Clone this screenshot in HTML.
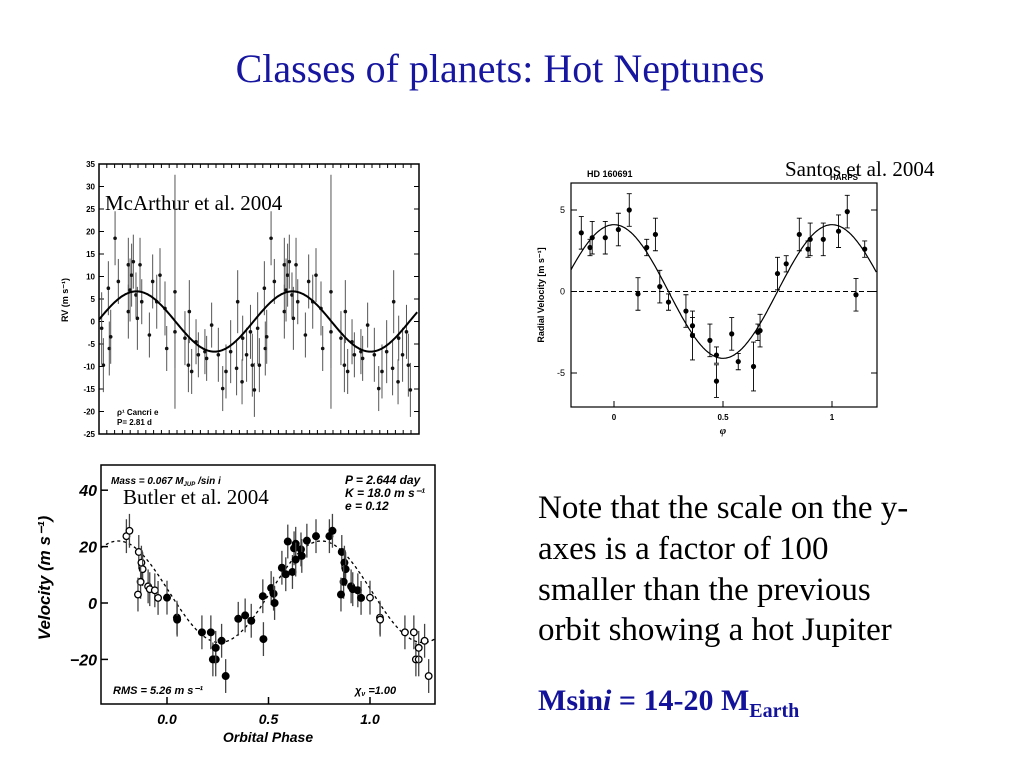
<!DOCTYPE html>
<html><head><meta charset="utf-8"><style>
body{margin:0;background:#fff;width:1024px;height:768px;overflow:hidden}
svg{display:block}
.ser{font-family:"Liberation Serif",serif}
.san{font-family:"Liberation Sans",sans-serif}
</style></head><body>
<svg id="s" width="1024" height="768" viewBox="0 0 1024 768" xmlns="http://www.w3.org/2000/svg">
<text class="ser" x="500" y="82" font-size="40" fill="#1616a0" text-anchor="middle">Classes of planets: Hot Neptunes</text>

<g id="p1">
<rect x="99" y="164" width="320" height="270" fill="none" stroke="#000" stroke-width="1.5"/>
<text class="san" x="68" y="300" font-size="9" font-weight="bold" text-anchor="middle" transform="rotate(-90 68 300)">RV (m s⁻¹)</text>
<text class="ser" x="105" y="210" font-size="21">McArthur et al. 2004</text>
<text class="san" x="117" y="415" font-size="8" font-weight="bold">ρ¹ Cancri e</text>
<text class="san" x="117" y="425" font-size="8" font-weight="bold">P= 2.81 d</text>
</g>

<g id="p2">
<rect x="571" y="183" width="306" height="224" fill="none" stroke="#000" stroke-width="1.2"/>
<text class="san" x="587" y="177" font-size="9" font-weight="bold">HD 160691</text>
<text class="san" x="830" y="180" font-size="8" font-weight="bold">HARPS</text>
<text class="ser" x="785" y="176" font-size="21">Santos et al. 2004</text>
<text class="san" x="544" y="295" font-size="9" font-weight="bold" text-anchor="middle" transform="rotate(-90 544 295)">Radial Velocity [m s⁻¹]</text>
<text class="ser" x="723" y="434" font-size="11" font-style="italic" font-weight="bold" text-anchor="middle">φ</text>
</g>

<g id="p3">
<rect x="101" y="465" width="334" height="239" fill="none" stroke="#000" stroke-width="1.5"/>
<text class="san" x="50" y="578" font-size="17" font-weight="bold" font-style="italic" text-anchor="middle" transform="rotate(-90 50 578)">Velocity (m s⁻¹)</text>
<text class="san" x="268" y="742" font-size="14" font-weight="bold" font-style="italic" text-anchor="middle">Orbital Phase</text>
<text class="san" x="111" y="484" font-size="10" font-weight="bold" font-style="italic">Mass = 0.067 M<tspan font-size="6" dy="2">JUP</tspan><tspan dy="-2"> /sin i</tspan></text>
<text class="ser" x="123" y="504" font-size="21">Butler et al. 2004</text>
<text class="san" x="345" y="484" font-size="12" font-weight="bold" font-style="italic">P = 2.644 day</text>
<text class="san" x="345" y="497" font-size="12" font-weight="bold" font-style="italic">K = 18.0 m s⁻¹</text>
<text class="san" x="345" y="510" font-size="12" font-weight="bold" font-style="italic">e = 0.12</text>
<text class="san" x="113" y="694" font-size="11" font-weight="bold" font-style="italic">RMS = 5.26 m s⁻¹</text>
<text class="san" x="355" y="694" font-size="11" font-weight="bold" font-style="italic">χ<tspan font-size="7" dy="2">ν</tspan><tspan dy="-2"> =1.00</tspan></text>
</g>

<text class="ser" font-size="33" fill="#000">
<tspan x="538" y="518">Note that the scale on the y-</tspan>
<tspan x="538" y="559">axes is a factor of 100</tspan>
<tspan x="538" y="600">smaller than the previous</tspan>
<tspan x="538" y="640">orbit showing a hot Jupiter</tspan>
</text>
<text class="ser" x="538" y="710" font-size="30" font-weight="bold" fill="#12129a">Msin<tspan font-style="italic">i</tspan> = 14-20 M<tspan font-size="20" dy="7">Earth</tspan></text>
</svg>
<script>
// McArthur data: phase, RV, error
const mPhase=[0.017,0.028,0.060,0.066,0.075,0.103,0.124,0.188,0.188,0.199,0.209,0.220,0.237,0.246,0.263,0.274,0.323,0.344,0.370,0.391,0.423,0.434,0.487,0.487,0.551,0.573,0.579,0.594,0.622,0.637,0.679,0.690,0.722,0.765,0.793,0.814,0.844,0.882,0.889,0.917,0.921,0.946,0.971,0.983,0.996];
const mRV=[-1.5,-9.7,7.4,-6,-3.4,18.5,8.9,12.6,2.2,7,10.3,13.3,5.9,0.7,12.6,4.4,-3,8.9,4.4,10.3,2.9,-6,6.6,-2.3,-3.7,-9.7,2.2,-11.1,-4.5,-7.4,-6.7,-8.2,-0.8,-7.4,-14.9,-11.1,-6.7,-10.4,4.4,-13.4,-3.7,-7.4,-2.3,-9.7,-15.2];
const mErr=[8,6,6,6,6,6,5,6,6,7,7,6,5,7,6,5,5,6,6,6,6,5,26,8,6,6,7,5,5,5,5,5,5,6,5,6,7,6,7,5,5,6,6,7,6];
const mTicks=[35,30,25,20,15,10,5,0,-5,-10,-15,-20,-25];
const mAmp=6.7, mPeak=0.24;
// Santos data
const sPhase=[-0.15,-0.11,-0.1,-0.04,0.02,0.07,0.11,0.15,0.19,0.21,0.25,0.33,0.36,0.36,0.44,0.47,0.47,0.54,0.57,0.64,0.66,0.67,0.75,0.79,0.85,0.89,0.9,0.96,1.03,1.07,1.11,1.15];
const sRV=[3.6,2.7,3.3,3.3,3.8,5.0,-0.15,2.7,3.5,0.3,-0.65,-1.2,-2.7,-2.1,-3.0,-3.9,-5.5,-2.6,-4.3,-4.6,-2.5,-2.4,1.1,1.7,3.5,2.6,3.2,3.2,3.7,4.9,-0.2,2.6];
const sErr=[1,0.5,1,1,1,1,1,0.5,1,1,0.5,1,1.5,0.5,1,0.5,1,1,0.5,1.5,0.5,1,1,0.5,1,0.5,1,1,1,1,1,0.5];
const sYTicks=[5,0,-5];
const sXTicks=[0,0.5,1];
const sXLabels=["0","0.5","1"];
const sAmp=4.1;
// Butler data (phase in [0,1])
const bPhase=[0,0.049,0.05,0.172,0.216,0.226,0.24,0.24,0.269,0.289,0.351,0.385,0.415,0.475,0.472,0.513,0.525,0.53,0.566,0.585,0.595,0.618,0.626,0.634,0.634,0.66,0.664,0.689,0.734,0.8,0.815,0.861,0.874,0.88,0.87,0.857,0.907,0.915,0.94,0.956];
const bRV=[1.9,-5.2,-5.9,-10.4,-10.4,-20,-20,-15.9,-13.4,-25.9,-5.6,-4.4,-6.3,-12.8,2.4,5.3,3.3,0,12.5,10.2,21.8,11,19.4,21,15.4,19,16.7,22.1,23.7,23.7,25.6,18.1,14.3,12,7.5,3,5.9,4.9,4.5,1.8];
const bYTicks=[40,20,0,-20];
const bYLabels=["40","20","0","\u221220"];
const bXTicks=[0,0.5,1];
const bXLabels=["0.0","0.5","1.0"];
const bK=18, bOff=4, bPeak=0.76;
const bRepeatMin=-0.21, bRepeatMax=1.3;

const NS="http://www.w3.org/2000/svg";
const svg=document.getElementById('s');
function mk(tag,attrs,parent){const e=document.createElementNS(NS,tag);for(const k in attrs)e.setAttribute(k,attrs[k]);(parent||svg).appendChild(e);return e;}

// ---- McArthur ----
const g1=document.getElementById('p1');
const mx=p=>99+p*156, my=v=>164+(35-v)*4.5;
mTicks.forEach(t=>{
  const tl=mk('line',{x1:99,x2:104,y1:my(t),y2:my(t),stroke:'#000','stroke-width':1},g1);
  
  
  const tr=mk('line',{x1:414,x2:419,y1:my(t),y2:my(t),stroke:'#000','stroke-width':1},g1);
  
  
  const tx=mk('text',{x:95,y:my(t)+3,'font-size':8,'font-weight':'bold','text-anchor':'end','class':'san'},g1);
  tx.textContent=t;
  
  
});
for(let p=0;p<=2.05;p+=0.05){
  const a=mk('line',{x1:mx(p),x2:mx(p),y1:430,y2:434,stroke:'#000'},g1);
  
  
  const b=mk('line',{x1:mx(p),x2:mx(p),y1:164,y2:168,stroke:'#000'},g1);
  
  
}
for(let k=0;k<2;k++){
  mPhase.forEach((p,i)=>{
    const ph=p+k; if(ph>2.05) return;
    const x=mx(ph);
    const e=mk('line',{x1:x,x2:x,y1:Math.max(164,my(mRV[i]+mErr[i])),y2:Math.min(434,my(mRV[i]-mErr[i])),stroke:'#555','stroke-width':1},g1);
    
    
    const c=mk('circle',{cx:x,cy:my(mRV[i]),r:1.8,fill:'#111'},g1);
    
    
  });
}
let d1='';
for(let p=0;p<=2.05;p+=0.01){d1+=(d1?'L':'M')+mx(p).toFixed(1)+','+my(mAmp*Math.cos(2*Math.PI*(p-mPeak))).toFixed(1);}
const c1=mk('path',{d:d1,fill:'none',stroke:'#000','stroke-width':2},g1);



// ---- Santos ----
const g2=document.getElementById('p2');
const sx=p=>614+p*218, sy=v=>291.5-v*16.3;
sYTicks.forEach(t=>{
  const a=mk('line',{x1:571,x2:577,y1:sy(t),y2:sy(t),stroke:'#000'},g2);
  
  
  const b=mk('line',{x1:871,x2:877,y1:sy(t),y2:sy(t),stroke:'#000'},g2);
  
  
  const tx=mk('text',{x:565,y:sy(t)+3,'font-size':9,'text-anchor':'end','class':'san'},g2);
  tx.textContent=t;
  
  
});
sXTicks.forEach((t,i)=>{
  const a=mk('line',{x1:sx(t),x2:sx(t),y1:401,y2:407,stroke:'#000'},g2);
  
  
  const tx=mk('text',{x:sx(t),y:420,'font-size':8,'text-anchor':'middle','class':'san','font-weight':'bold'},g2);
  tx.textContent=sXLabels[i];
  
  
});
const z=mk('line',{x1:571,x2:877,y1:sy(0),y2:sy(0),stroke:'#000','stroke-dasharray':'5,3'},g2);


let d2='';
for(let p=-0.197;p<=1.206;p+=0.005){d2+=(d2?'L':'M')+sx(p).toFixed(1)+','+sy(sAmp*Math.cos(2*Math.PI*p)).toFixed(1);}
const c2=mk('path',{d:d2,fill:'none',stroke:'#000','stroke-width':1.2},g2);


sPhase.forEach((p,i)=>{
  const x=sx(p),y1=sy(sRV[i]+sErr[i]),y2=sy(sRV[i]-sErr[i]);
  const e=mk('path',{d:`M${x},${y1}V${y2}M${x-2.5},${y1}h5M${x-2.5},${y2}h5`,stroke:'#000',fill:'none','stroke-width':0.9},g2);
  
  
  const c=mk('circle',{cx:x,cy:sy(sRV[i]),r:2.6,fill:'#000'},g2);
  
  
});

// ---- Butler ----
const g3=document.getElementById('p3');
const bx=p=>167+p*203, by=v=>603-v*2.82;
bYTicks.forEach((t,i)=>{
  const a=mk('line',{x1:101,x2:108,y1:by(t),y2:by(t),stroke:'#000','stroke-width':1.5},g3);
  
  
  const tx=mk('text',{x:97,y:by(t)+6,'font-size':16,'font-weight':'bold','font-style':'italic','text-anchor':'end','class':'san'},g3);
  tx.textContent=bYLabels[i];
  
  
});
bXTicks.forEach((t,i)=>{
  const a=mk('line',{x1:bx(t),x2:bx(t),y1:697,y2:704,stroke:'#000','stroke-width':1.5},g3);
  
  
  const tx=mk('text',{x:bx(t),y:724,'font-size':14,'font-weight':'bold','font-style':'italic','text-anchor':'middle','class':'san'},g3);
  tx.textContent=bXLabels[i];
  
  
});
let d3='';
for(let p=-0.325;p<=1.32;p+=0.005){d3+=(d3?'L':'M')+bx(p).toFixed(1)+','+by(bOff+bK*Math.cos(2*Math.PI*(p-bPeak))).toFixed(1);}
const c3=mk('path',{d:d3,fill:'none',stroke:'#000','stroke-width':1.3,'stroke-dasharray':'3,3'},g3);


function bpt(p,v,open){
  const x=bx(p);
  const e=mk('line',{x1:x,x2:x,y1:by(v+6),y2:by(v-6),stroke:'#444','stroke-width':1.3},g3);
  
  
  const c=mk('circle',{cx:x,cy:by(v),r:open?3.3:4,fill:open?'#fff':'#000',stroke:'#000','stroke-width':open?1.3:0},g3);
  
  
}
bPhase.forEach((p,i)=>{
  bpt(p,bRV[i],false);
  if(p-1>=bRepeatMin) bpt(p-1,bRV[i],true);
  if(p+1<=bRepeatMax) bpt(p+1,bRV[i],true);
});
</script>
</body></html>
